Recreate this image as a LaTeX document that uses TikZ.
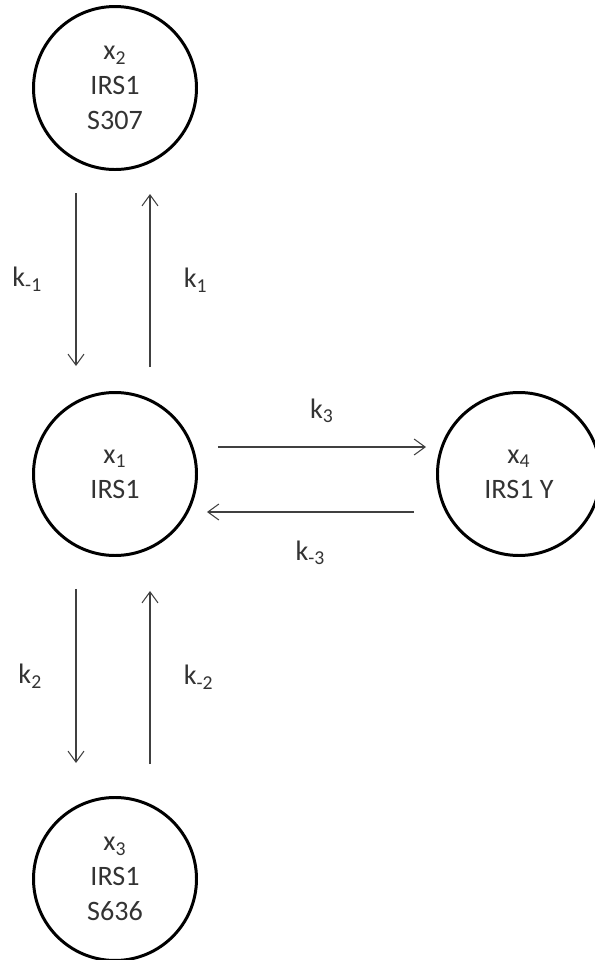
\documentclass[tikz,border=0pt]{standalone}
\usepackage{fontspec}
\setmainfont{Carlito}
\usepackage{tikz}
\usetikzlibrary{positioning,arrows.meta}

\begin{document}
\begin{tikzpicture}[
  node distance=4.4cm,
  state/.style={draw, circle, line width=1.7pt, minimum size=3.26cm, inner sep=0pt, align=center, text=black!80, font=\fontsize{16}{20}\selectfont},
  arr/.style={-{Straight Barb[length=2.2mm, width=3.2mm]}, line width=0.6pt, draw=black!75},
  rate/.style={text=black!80, font=\fontsize{16}{20}\selectfont}
]
\useasboundingbox (0,0) rectangle (11.9,-19.2);

\node[state] (x1) at (2.30,-9.48) {x\textsubscript{1}\\IRS1};
\node[state, above=of x1] (x2) {x\textsubscript{2}\\IRS1\\S307};
\node[state, below=4.78cm of x1] (x3) {x\textsubscript{3}\\IRS1\\S636};
\node[state, right=4.76cm of x1] (x4) {x\textsubscript{4}\\IRS1 Y};

% x1 <-> x2
\draw[arr] ([xshift=-0.78cm, yshift=-0.44cm]x2.south) -- node[rate, left=0.55cm]{k\textsubscript{-1}} ([xshift=-0.78cm, yshift=0.5cm]x1.north);
\draw[arr] ([xshift=0.70cm, yshift=0.48cm]x1.north) -- node[rate, right=0.55cm]{k\textsubscript{1}} ([xshift=0.70cm, yshift=-0.46cm]x2.south);

% x1 <-> x3
\draw[arr] ([xshift=-0.78cm, yshift=-0.64cm]x1.south) -- node[rate, left=0.55cm]{k\textsubscript{2}} ([xshift=-0.78cm, yshift=0.66cm]x3.north);
\draw[arr] ([xshift=0.70cm, yshift=0.64cm]x3.north) -- node[rate, right=0.55cm]{k\textsubscript{-2}} ([xshift=0.70cm, yshift=-0.68cm]x1.south);

% x1 <-> x4
\draw[arr] ([xshift=0.4cm, yshift=0.54cm]x1.east) -- node[rate, above=0.35cm]{k\textsubscript{3}} ([xshift=-0.2cm, yshift=0.54cm]x4.west);
\draw[arr] ([xshift=-0.44cm, yshift=-0.76cm]x4.west) -- node[rate, below=0.45cm]{k\textsubscript{-3}} ([xshift=0.18cm, yshift=-0.76cm]x1.east);
\end{tikzpicture}
\end{document}
